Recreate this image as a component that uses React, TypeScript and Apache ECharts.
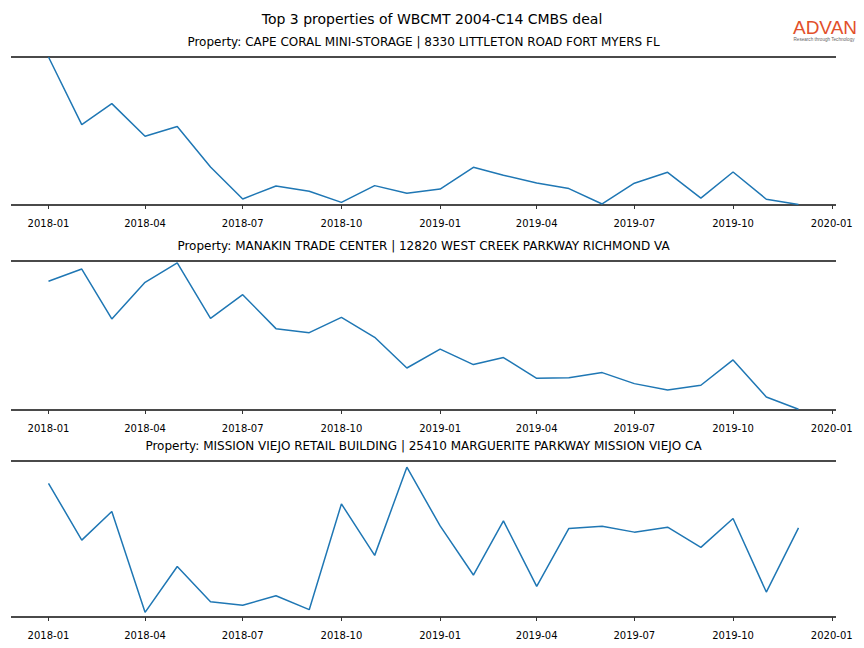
import React, { useEffect, useRef } from "react";
import * as echarts from "echarts";

const months: string[] = [
  "2018-01", "2018-02", "2018-03", "2018-04", "2018-05", "2018-06",
  "2018-07", "2018-08", "2018-09", "2018-10", "2018-11", "2018-12",
  "2019-01", "2019-02", "2019-03", "2019-04", "2019-05", "2019-06",
  "2019-07", "2019-08", "2019-09", "2019-10", "2019-11", "2019-12",
];

const tickMonths: string[] = [
  "2018-01", "2018-04", "2018-07", "2018-10",
  "2019-01", "2019-04", "2019-07", "2019-10", "2020-01",
];

const mainTitle = "Top 3 properties of WBCMT 2004-C14 CMBS deal";

const propertyTitles: string[] = [
  "Property: CAPE CORAL MINI-STORAGE | 8330 LITTLETON ROAD FORT MYERS FL",
  "Property: MANAKIN TRADE CENTER | 12820 WEST CREEK PARKWAY RICHMOND VA",
  "Property: MISSION VIEJO RETAIL BUILDING | 25410 MARGUERITE PARKWAY MISSION VIEJO CA",
];

const capeCoral: number[] = [
  100, 54.3, 68.5, 46.4, 53.0, 25.7, 4.1, 12.8, 9.3, 1.8, 13.1, 7.9,
  10.8, 25.5, 20.1, 14.9, 11.1, 0.7, 14.7, 22.1, 4.7, 22.3, 3.9, 0.3,
];

const manakin: number[] = [
  86.4, 94.6, 61.1, 85.7, 98.7, 61.5, 77.4, 54.6, 51.9, 62.2, 48.8, 28.2,
  40.9, 30.5, 35.2, 21.3, 21.7, 25.1, 17.7, 13.4, 16.6, 33.6, 8.7, 0.5,
];

const missionViejo: number[] = [
  85.7, 49.3, 67.6, 3.0, 32.4, 9.8, 7.5, 13.6, 4.7, 72.5, 39.5, 96.0,
  58.4, 26.9, 61.6, 19.6, 56.8, 58.2, 54.4, 57.6, 44.6, 63.1, 16.0, 57.1,
];

const seriesValues: number[][] = [capeCoral, manakin, missionViejo];

const toTs = (m: string) => {
  const [y, mo] = m.split("-").map(Number);
  return Date.UTC(y, mo - 1, 1);
};

const DAY = 86400000;
const dataMin = toTs(months[0]);
const dataMax = toTs(months[months.length - 1]);
const pad = (dataMax - dataMin) * 0.05;
const xMin = dataMin - pad;
const xMax = dataMax + pad;

const fmt = (v: number) => {
  const d = new Date(Math.round(v / DAY) * DAY + DAY / 2);
  return `${d.getUTCFullYear()}-${String(d.getUTCMonth() + 1).padStart(2, "0")}`;
};

const grids = [
  { top: 57, height: 148 },
  { top: 261, height: 149 },
  { top: 461, height: 156 },
];

const LEFT = 11;
const RIGHT = 28;
const SPINE = "#4a4a4a";
const FONT = "DejaVu Sans";

export default function App() {
  const ref = useRef<HTMLDivElement>(null);

  useEffect(() => {
    if (!ref.current) return;
    const chart = echarts.init(ref.current, null, { renderer: "svg" });
    const tickVals = tickMonths.map(toTs);

    const option: any = {
      animation: false,
      backgroundColor: "#ffffff",
      grid: grids.map((g) => ({
        left: LEFT,
        right: RIGHT,
        top: g.top,
        height: g.height,
        containLabel: false,
      })),
      xAxis: grids.map((_, i) => ({
        type: "value",
        gridIndex: i,
        min: xMin,
        max: xMax,
        position: "bottom",
        offset: 6,
        axisLine: { show: false },
        axisTick: {
          show: true,
          length: 4,
          customValues: tickVals,
          lineStyle: { color: "#333333", width: 1 },
        },
        axisLabel: {
          show: true,
          customValues: tickVals,
          formatter: (v: number) => fmt(v),
          margin: 7,
          fontFamily: FONT,
          fontSize: 10,
          color: "#000000",
          showMinLabel: true,
          showMaxLabel: true,
        },
        splitLine: { show: false },
      })),
      yAxis: grids.map((_, i) => ({
        type: "value",
        gridIndex: i,
        min: 0,
        max: 100,
        interval: 100,
        axisLine: { show: false },
        axisTick: { show: false },
        axisLabel: { show: false },
        splitLine: { show: true, lineStyle: { color: SPINE, width: 2 } },
      })),
      series: seriesValues.map((vals, i) => ({
        type: "line",
        xAxisIndex: i,
        yAxisIndex: i,
        data: months.map((m, j) => [toTs(m), vals[j]]),
        symbol: "none",
        lineStyle: { color: "#1f77b4", width: 1.5 },
        z: 5,
      })),
      graphic: [
        {
          type: "text",
          x: 432,
          y: 19,
          style: {
            text: mainTitle,
            fontFamily: FONT,
            fontSize: 14,
            fill: "#000000",
            textAlign: "center",
            textVerticalAlign: "middle",
          },
        },
        ...grids.map((g, i) => ({
          type: "text",
          x: LEFT + (864 - LEFT - RIGHT) / 2,
          y: g.top - 15,
          style: {
            text: propertyTitles[i],
            fontFamily: FONT,
            fontSize: 12,
            fill: "#000000",
            textAlign: "center",
            textVerticalAlign: "middle",
          },
        })),
        {
          type: "text",
          x: 825,
          y: 27,
          style: {
            text: "ADVAN",
            fontFamily: "Liberation Sans",
            fontSize: 19,
            fill: "#e2502b",
            textAlign: "center",
            textVerticalAlign: "middle",
          },
        },
        {
          type: "text",
          x: 824,
          y: 39,
          style: {
            text: "Research through Technology",
            fontFamily: "Liberation Sans",
            fontSize: 4.6,
            fill: "#666666",
            textAlign: "center",
            textVerticalAlign: "middle",
          },
        },
      ],
    };

    chart.setOption(option);
    return () => chart.dispose();
  }, []);

  return (
    <div
      ref={ref}
      style={{ position: "fixed", left: 0, top: 0, width: 864, height: 648 }}
    />
  );
}
